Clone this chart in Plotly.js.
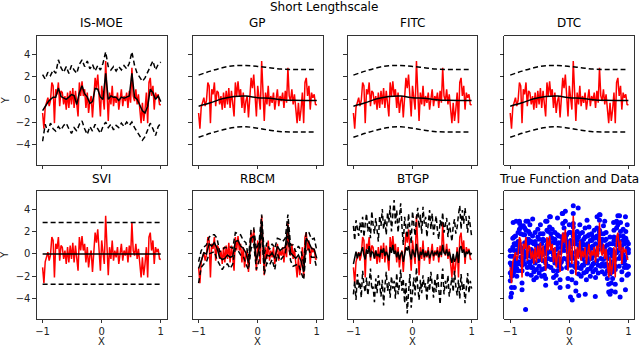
<!DOCTYPE html>
<html>
<head>
<meta charset="utf-8">
<script src="https://cdn.plot.ly/plotly-3.0.1.min.js"></script>
<style>html,body{margin:0;padding:0;background:#fff;}#chart{width:640px;height:348px;}</style>
</head>
<body>
<div id="chart"></div>
<script>
// ---------- data ----------
const panelTitles = ["IS-MOE", "GP", "FITC", "DTC", "SVI", "RBCM", "BTGP", "True Function and Data"];
const xTicks = [-1, 0, 1];
const yTicks = [-4, -2, 0, 2, 4];

// fine grid (91 points)
const xFine = [-1.000,-0.978,-0.956,-0.933,-0.911,-0.889,-0.867,-0.844,-0.822,-0.800,
 -0.778,-0.756,-0.733,-0.711,-0.689,-0.667,-0.644,-0.622,-0.600,-0.578,
 -0.556,-0.533,-0.511,-0.489,-0.467,-0.444,-0.422,-0.400,-0.378,-0.356,
 -0.333,-0.311,-0.289,-0.267,-0.244,-0.222,-0.200,-0.178,-0.156,-0.133,
 -0.111,-0.089,-0.067,-0.044,-0.022,0.000,0.022,0.044,0.067,0.089,
 0.111,0.133,0.156,0.178,0.200,0.222,0.244,0.267,0.289,0.311,
 0.333,0.356,0.378,0.400,0.422,0.444,0.467,0.489,0.511,0.533,
 0.556,0.578,0.600,0.622,0.644,0.667,0.689,0.711,0.733,0.756,
 0.778,0.800,0.822,0.844,0.867,0.889,0.911,0.933,0.956,0.978,1.000];

// true function (red)
const trueY = [-1.2,-2.6,-0.7,-0.3,0.15,-0.6,-0.1,1.5,1.2,-2.1,
 0.9,0.45,1.5,-0.6,0.75,0.6,-0.45,0.3,-0.9,0.6,
 -0.75,0.75,-0.45,1.0,-0.75,0.75,-0.6,-1.5,1.5,0.3,
 1.6,0.3,0.9,-0.75,0.6,-1.2,-0.15,0.3,-1.6,0,
 1.9,1.0,2.2,0.3,-1.5,1.2,0.3,-0.9,3.4,0.3,
 -1.9,0.6,-0.45,1.2,-0.6,0.3,-0.3,0.6,-0.9,0,
 0.9,-0.6,0.3,-0.15,0.6,-0.75,0.75,-0.3,2.8,0.3,
 -0.15,0.9,-0.45,0.45,-0.75,-2.1,-0.3,-1.9,-0.9,0.6,
 -2.1,1.5,1.9,0.3,1.2,-0.9,0.6,0.15,0.45,-0.45,-0.5];

// coarse grid (46 points)
const xCoarse = [-1.000,-0.956,-0.911,-0.867,-0.822,-0.778,-0.733,-0.689,-0.644,-0.600,
 -0.556,-0.511,-0.467,-0.422,-0.378,-0.333,-0.289,-0.244,-0.200,-0.156,
 -0.111,-0.067,-0.022,0.022,0.067,0.111,0.156,0.200,0.244,0.289,
 0.333,0.378,0.422,0.467,0.511,0.556,0.600,0.644,0.689,0.733,
 0.778,0.822,0.867,0.911,0.956,1.000];

const ismoeMean = [-1.0,-0.6,-0.25,0.0,0.2,0.2,1.0,0.25,0.15,0.0,
 0.2,0.43,0.33,-0.45,0.6,1.2,0.5,0.2,-0.35,-0.2,
 0.97,0.9,0.2,0.0,2.3,0.0,0.3,0.2,0.2,-0.1,
 0.2,0.1,0.2,0.3,2.3,0.2,0.0,-0.5,-1.0,-1.2,
 -0.6,0.9,0.6,0.0,0.3,-0.2];
const ismoeUpper = [2.2,1.8,2.4,2.1,2.6,2.3,3.5,2.8,2.4,2.9,
 2.3,3.0,2.6,2.3,3.1,3.5,2.9,3.4,2.7,3.1,
 2.5,3.0,2.6,3.2,4.2,2.9,2.6,2.9,2.5,2.9,
 2.6,3.0,2.7,3.2,4.2,3.0,2.3,1.9,1.6,1.9,
 2.4,3.0,3.4,2.6,3.1,3.3];
const ismoeLower = [-3.7,-2.2,-2.9,-2.1,-2.6,-2.8,-2.4,-2.7,-2.3,-2.1,
 -2.6,-3.0,-2.5,-2.8,-2.2,-1.9,-2.6,-3.1,-2.4,-2.8,
 -2.2,-2.6,-3.0,-2.4,-2.0,-2.5,-2.2,-2.7,-2.3,-2.5,
 -2.1,-2.4,-2.0,-2.3,-2.0,-2.5,-2.9,-3.2,-3.6,-3.3,
 -2.7,-2.1,-2.6,-3.2,-2.4,-2.1];

// smooth GP / FITC / DTC
const gpX = [-1,-0.8,-0.6,-0.4,-0.2,0,0.2,0.4,0.6,0.8,1];
const gpMean = [-0.6,-0.3,0.05,0.25,0.3,0.15,0.1,-0.02,-0.08,-0.1,-0.1];
const gpUpper = [2.15,2.5,2.8,2.98,3.0,2.92,2.8,2.68,2.65,2.65,2.65];
const gpLower = [-3.35,-3.0,-2.7,-2.48,-2.42,-2.55,-2.72,-2.85,-2.88,-2.88,-2.88];

// SVI
const sviX = [-1, 1];
const sviMean = [0, 0];
const sviUpper = [2.8, 2.8];
const sviLower = [-2.7, -2.7];

// RBCM
const rbcmMean = [-1.3,-0.6,0.1,0.0,0.9,0.7,1.0,0.5,-0.3,-0.5,
 -0.4,-0.1,-0.3,-0.2,1.1,1.2,0.7,0.5,0.1,-0.8,
 1.4,1.6,-0.6,0.4,2.8,-0.9,-0.1,-0.2,0.1,-0.4,
 0.7,0.3,0.5,0.6,2.6,0.1,-0.2,-0.4,-0.1,-0.6,
 -1.6,1.4,1.0,0.5,0.4,-0.4];
const rbcmUpper = [-0.7,0.3,0.6,0.8,1.5,1.7,1.7,1.4,0.2,0.3,
 0.6,0.5,0.6,0.5,1.9,1.8,1.7,1.2,1.0,-0.3,
 2.2,2.3,0.4,1.0,3.5,0.0,1.0,0.4,0.9,0.5,
 1.4,1.3,1.1,1.4,3.5,0.8,0.8,0.2,0.7,0.3,
 -0.9,2.0,1.9,1.3,1.4,0.3];
const rbcmLower = [-2.6,-1.2,-0.9,-0.7,0.0,0.1,0.2,-0.5,-1.0,-1.4,
 -1.0,-0.9,-1.3,-0.9,0.5,0.3,-0.1,-0.2,-0.9,-1.4,
 0.5,0.9,-1.4,-0.6,2.2,-1.8,-0.8,-1.0,-0.5,-1.4,
 0.0,-0.6,-0.3,0.0,1.6,-0.6,-1.1,-1.0,-0.9,-1.6,
 -2.3,0.5,0.4,-0.3,-0.3,-1.3];

// BTGP (fine grid)
const btgpMean = [-0.9,-0.3,0.2,-0.4,0.1,-0.2,0.3,0.6,-0.1,-0.5,
 0.4,0.0,0.7,-0.3,0.2,0.1,-0.4,0.3,-0.2,0.0,
 -0.3,0.4,0.1,0.5,-0.2,0.2,-0.1,-0.6,0.6,0.1,
 0.8,0.0,0.3,-0.3,0.2,-0.5,0.0,0.2,-0.7,0.1,
 0.6,0.3,0.7,0.0,-0.5,0.4,0.1,-0.3,0.9,0.1,
 -0.6,0.2,-0.1,0.4,-0.3,0.1,-0.2,0.3,-0.4,0.0,
 0.3,-0.2,0.1,0.0,0.3,-0.3,0.2,-0.1,0.8,0.1,
 0.0,0.4,-0.2,0.2,-0.3,-0.8,0.0,-0.7,-0.4,0.2,
 -0.8,0.5,0.7,0.1,0.4,-0.3,0.2,0.0,0.3,-0.1,0.1];
const btgpUpper = [2.5,1.2,3.0,2.2,1.6,2.8,1.9,3.3,1.5,2.7,
 3.6,2.0,2.9,1.4,3.8,2.6,1.8,3.2,2.3,1.1,
 3.4,2.5,4.0,2.2,3.1,1.7,3.7,2.8,4.3,2.0,
 3.5,4.8,2.7,3.9,1.9,3.0,4.5,2.4,0.8,3.3,
 2.1,1.4,3.6,2.5,0.9,3.8,2.9,1.6,3.2,4.1,
 2.3,3.5,1.8,4.2,2.7,3.3,1.5,2.9,3.9,2.2,
 3.6,1.7,2.8,3.4,2.1,1.3,3.0,2.4,3.7,1.9,
 2.6,3.2,1.5,2.8,2.0,1.1,2.5,3.1,1.8,2.4,
 3.5,4.3,2.2,3.9,2.7,4.1,3.0,1.9,3.4,2.5,1.6];
const btgpLower = [-3.6,-2.4,-4.1,-1.8,-3.0,-2.5,-3.9,-1.5,-2.8,-3.4,
 -2.1,-3.7,-2.6,-1.3,-3.2,-2.9,-4.3,-2.2,-3.5,-1.9,
 -2.7,-3.8,-2.3,-4.6,-2.9,-1.6,-3.3,-2.5,-3.9,-2.0,
 -3.1,-2.4,-4.0,-1.7,-3.6,-2.8,-1.4,-3.3,-2.2,-4.4,
 -2.6,-5.3,-3.4,-1.8,-4.8,-3.0,-2.1,-3.7,-1.2,-2.9,
 -4.1,-2.3,-3.5,-1.9,-3.0,-2.6,-4.2,-2.0,-3.3,-1.6,
 -2.8,-3.9,-2.2,-3.4,-1.7,-2.9,-4.5,-2.5,-1.3,-3.6,
 -2.4,-3.1,-1.9,-3.8,-2.7,-2.1,-3.4,-1.5,-2.9,-3.7,
 -2.3,-4.0,-1.8,-3.2,-2.6,-4.4,-3.0,-1.7,-3.5,-2.4,-3.1];

// observed data (blue): samples per fine-grid x plus extra points
const dataA = [0.3,-1.0,1.4,0.9,1.6,0.8,1.9,2.9,2.4,-0.6,
 2.5,1.7,2.9,1.3,2.0,2.6,1.1,1.6,0.9,1.9,
 0.7,2.2,1.3,2.6,0.9,1.8,1.2,0.3,2.9,2.0,
 3.3,1.4,2.2,1.0,1.9,0.4,1.7,1.6,0.1,1.5,
 3.6,2.3,3.8,1.7,0.2,2.6,1.9,0.9,4.3,1.7,
 0.2,2.0,1.5,2.6,1.1,1.9,1.3,2.3,0.8,1.6,
 2.4,1.2,1.8,1.5,2.1,0.9,2.3,1.4,3.5,1.8,
 1.3,2.5,1.2,1.9,0.8,-0.4,1.5,0.0,0.9,2.1,
 -0.5,2.9,3.4,1.6,2.8,0.7,2.2,1.4,2.0,1.1,0.9];
const dataB = [-2.4,-3.5,-1.9,-1.6,-1.2,-2.0,-1.5,0.2,-0.3,-3.2,
 -0.6,-0.9,0.1,-1.8,-0.7,-0.9,-1.9,-1.2,-2.3,-0.8,
 -2.1,-0.6,-1.7,-0.5,-2.0,-0.6,-1.9,-2.8,0.0,-1.1,
 0.2,-1.2,-0.5,-2.1,-0.8,-2.6,-1.5,-1.1,-3.0,-1.3,
 0.4,-0.4,0.7,-1.2,-2.9,-0.2,-1.0,-2.3,1.6,-1.1,
 -3.3,-0.8,-1.8,-0.1,-2.0,-1.0,-1.7,-0.7,-2.3,-1.4,
 -0.5,-2.0,-1.1,-1.6,-0.8,-2.1,-0.6,-1.7,1.2,-1.1,
 -1.6,-0.5,-1.8,-0.9,-2.2,-3.4,-1.8,-3.3,-2.2,-0.8,
 -3.4,0.1,0.3,-1.1,-0.2,-2.3,-0.8,-1.2,-1.0,-1.9,-1.8];
const dataC = [-0.8,-2.0,-0.2,0.3,-0.4,0.1,-0.7,0.9,1.8,-1.5,
 0.3,1.0,0.8,0.1,1.3,0.0,0.2,-0.3,-0.2,1.1,
 -0.1,0.2,0.3,0.4,-0.1,1.2,0.1,-0.8,0.8,0.9,
 1.0,0.9,0.3,-0.1,1.1,-0.5,0.5,-0.4,-0.9,0.6,
 1.2,1.6,1.5,0.9,-0.8,0.6,0.9,-0.2,2.7,0.9,
 -1.2,1.2,0.2,0.5,0.1,0.8,0.3,0.0,-0.2,0.6,
 0.3,0.1,-0.3,0.5,0.0,-0.1,0.1,0.4,2.1,0.9,
 0.5,0.3,0.2,-0.2,0.0,-1.4,0.4,-1.2,-0.2,1.2,
 -1.4,0.8,1.3,0.9,0.6,-0.2,1.2,-0.5,1.0,0.2,0.1];
const dataD = [-0.2,-1.6,0.6,1.5,0.9,0.3,1.1,2.2,0.6,-1.0,
 1.7,2.3,2.1,0.6,1.0,1.8,0.4,1.0,0.2,0.9,
 0.3,1.5,0.7,1.8,0.3,1.3,0.5,-0.5,2.1,1.2,
 2.4,1.8,1.4,0.3,1.3,-0.1,0.9,1.0,-0.6,0.9,
 2.7,1.7,2.9,1.1,-0.4,1.9,1.2,0.1,3.6,1.1,
 -0.8,1.4,0.8,1.8,0.4,1.0,0.8,1.5,0.3,0.9,
 1.7,0.6,1.2,0.7,1.4,0.2,1.6,0.8,3.0,1.2,
 0.7,1.8,0.6,1.3,0.2,-1.0,0.9,-0.7,0.3,1.5,
 -1.1,2.3,2.6,1.1,2.0,0.1,1.6,0.9,1.4,0.5,0.4];
const dataE = [-1.7,-3.0,-1.3,-0.9,-0.6,-1.3,-0.9,0.6,0.4,-2.6,
 0.1,-0.3,0.7,-1.2,-0.1,-0.2,-1.2,-0.6,-1.6,-0.2,
 -1.4,0.0,-1.1,0.2,-1.4,0.0,-1.3,-2.2,0.7,-0.4,
 0.9,-0.5,0.2,-1.5,-0.2,-1.9,-0.9,-0.5,-2.3,-0.7,
 1.1,0.3,1.4,-0.5,-2.2,0.5,-0.4,-1.6,2.4,-0.4,
 -2.6,-0.1,-1.2,0.5,-1.3,-0.4,-1.0,-0.1,-1.6,-0.8,
 0.2,-1.3,-0.4,-0.9,-0.1,-1.4,0.0,-1.0,1.9,-0.4,
 -0.9,0.2,-1.1,-0.3,-1.5,-2.7,-1.0,-2.6,-1.6,-0.1,
 -2.7,0.8,1.1,-0.4,0.5,-1.6,-0.1,-0.6,-0.3,-1.2,-1.1];
const extraX = [-0.99,-0.74,0.02,0.05,0.16,0.27,0.44,0.69,0.86,-0.32,-0.12,0.15,0.47,0.85,0.52,-0.93,0.95,
 -0.95,-0.9,-0.84,-0.7,-0.62,-0.4,-0.2,0.3,0.6,0.75,0.95,0.98];
const extraY = [-3.85,-4.95,-3.84,-4.1,-3.7,-3.6,-3.8,-3.6,-3.85,3.3,3.6,4.1,3.3,3.4,3.5,-3.0,-3.2,
 2.8,2.9,2.7,2.9,3.1,2.9,3.2,3.0,2.9,2.8,3.3,2.6];

// ---------- figure ----------
const RED = '#ff0000', BLACK = '#000000', BLUE = '#0000ff';
const W = 640, H = 348;
const colPx = [[36.7,166.7],[192.7,322.7],[347.5,477.5],[504.3,634.3]];
const rowPx = [[35.5,165],[190.5,319]];

const traces = [];
function ax(i){ return i === 0 ? '' : String(i + 1); }
function line(i, x, y, color, dash, shape){
  traces.push({x: x, y: y, xaxis: 'x' + ax(i), yaxis: 'y' + ax(i), type: 'scatter', mode: 'lines',
    line: {color: color, width: 1.5, dash: dash || 'solid', shape: shape || 'linear'}, hoverinfo: 'skip'});
}
const DASH = '5px,3px';
// 0 IS-MOE
line(0, xFine, trueY, RED);
line(0, xCoarse, ismoeMean, BLACK);
line(0, xCoarse, ismoeUpper, BLACK, DASH);
line(0, xCoarse, ismoeLower, BLACK, DASH);
// 1-3 GP / FITC / DTC
for (const i of [1,2,3]) {
  line(i, xFine, trueY, RED);
  line(i, gpX, gpMean, BLACK, null, 'spline');
  line(i, gpX, gpUpper, BLACK, DASH, 'spline');
  line(i, gpX, gpLower, BLACK, DASH, 'spline');
}
// 4 SVI
line(4, xFine, trueY, RED);
line(4, sviX, sviMean, BLACK);
line(4, sviX, sviUpper, BLACK, DASH);
line(4, sviX, sviLower, BLACK, DASH);
// 5 RBCM
line(5, xFine, trueY, RED);
line(5, xCoarse, rbcmMean, BLACK);
line(5, xCoarse, rbcmUpper, BLACK, DASH);
line(5, xCoarse, rbcmLower, BLACK, DASH);
// 6 BTGP
line(6, xFine, trueY, RED);
line(6, xFine, btgpMean, BLACK);
line(6, xFine, btgpUpper, BLACK, DASH);
line(6, xFine, btgpLower, BLACK, DASH);
// 7 True function and data
for (const d of [[xFine, dataA],[xFine, dataB],[xFine, dataC],[xFine, dataD],[xFine, dataE],[extraX, extraY]]) {
  traces.push({x: d[0], y: d[1], xaxis: 'x8', yaxis: 'y8', type: 'scatter', mode: 'markers',
    marker: {color: BLUE, size: 5, line: {width: 0}}, hoverinfo: 'skip'});
}
line(7, xFine, trueY, RED);

const layout = {
  width: W, height: H, margin: {l: 0, r: 0, t: 0, b: 0}, showlegend: false,
  paper_bgcolor: '#fff', plot_bgcolor: '#fff',
  font: {family: 'DejaVu Sans, sans-serif', color: '#000', size: 10},
  annotations: []
};
const tfont = {family: 'DejaVu Sans, sans-serif', size: 12, color: '#000'};
for (let i = 0; i < 8; i++) {
  const row = Math.floor(i / 4), col = i % 4;
  const cx = colPx[col], ry = rowPx[row];
  const xa = {
    domain: [cx[0] / W, cx[1] / W], range: [-1.1, 1.1], tickvals: xTicks,
    ticktext: xTicks.map(v => v < 0 ? '\u2212' + Math.abs(v) : String(v)),
    showticklabels: row === 1, ticks: 'outside', ticklen: 3.5, tickwidth: 0.8, tickcolor: '#000',
    showline: true, mirror: true, linecolor: '#000', linewidth: 0.8, showgrid: false, zeroline: false,
    tickfont: {size: 10, color: '#222'}, anchor: 'y' + ax(i), fixedrange: true
  };
  const ya = {
    domain: [1 - ry[1] / H, 1 - ry[0] / H], range: [-5.8, 5.65], tickvals: yTicks,
    ticktext: yTicks.map(v => v < 0 ? '\u2212' + Math.abs(v) : String(v)),
    showticklabels: col === 0, ticks: 'outside', ticklen: 3.5, tickwidth: 0.8, tickcolor: '#000',
    showline: true, mirror: true, linecolor: '#000', linewidth: 0.8, showgrid: false, zeroline: false,
    tickfont: {size: 10, color: '#222'}, anchor: 'x' + ax(i), fixedrange: true
  };
  layout['xaxis' + ax(i)] = xa;
  layout['yaxis' + ax(i)] = ya;
  layout.annotations.push({text: panelTitles[i], xref: 'paper', yref: 'paper',
    x: (cx[0] + cx[1]) / 2 / W, y: 1 - (ry[0] - 3) / H, xanchor: 'center', yanchor: 'bottom',
    showarrow: false, font: tfont});
  if (col === 0) {
    layout.annotations.push({text: 'Y', xref: 'paper', yref: 'paper', x: 5 / W,
      y: 1 - (ry[0] + ry[1]) / 2 / H, xanchor: 'center', yanchor: 'middle', textangle: -90,
      showarrow: false, font: {family: 'DejaVu Sans, sans-serif', size: 10, color: '#222'}});
  }
  if (row === 1) {
    layout.annotations.push({text: 'X', xref: 'paper', yref: 'paper', x: (cx[0] + cx[1]) / 2 / W,
      y: 1 - 341 / H, xanchor: 'center', yanchor: 'middle',
      showarrow: false, font: {family: 'DejaVu Sans, sans-serif', size: 10, color: '#222'}});
  }
}
layout.annotations.push({text: 'Short Lengthscale', xref: 'paper', yref: 'paper', x: 324 / W, y: 1 - 7 / H,
  xanchor: 'center', yanchor: 'middle', showarrow: false, font: {family: 'DejaVu Sans, sans-serif', size: 12, color: '#000'}});

Plotly.newPlot('chart', traces, layout, {staticPlot: true, displayModeBar: false});
</script>
</body>
</html>
